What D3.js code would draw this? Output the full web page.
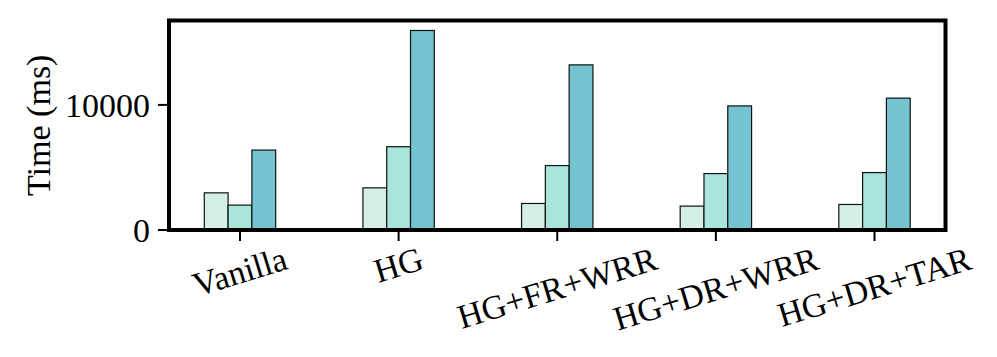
<html>
  <head>
    <meta charset="utf-8">
    <script src="https://d3js.org/d3.v7.min.js"></script>
    <style>
      body { margin: 0; background: #fff; }
      text { font-family: "Liberation Serif", "Times New Roman", serif; }
    </style>
  </head>
  <body>
    <div id="my_dataviz"></div>
  </body>

  <script>
    // data
    const categories = ['Vanilla', 'HG', 'HG+FR+WRR', 'HG+DR+WRR', 'HG+DR+TAR']
    const seriesA = [2970, 3370, 2120, 1910, 2040]
    const seriesB = [1990, 6660, 5150, 4510, 4590]
    const seriesC = [6390, 15950, 13200, 9920, 10540]
    const yTicks = [0, 10000]
    const colors = ['#d4efe6', '#aae5dc', '#74c3d0']

    const W = 997, H = 357
    const margin = {top: 20.5, right: 51.5, bottom: 127, left: 169}
    const width = W - margin.left - margin.right,
          height = H - margin.top - margin.bottom

    const fs = 34
    const barW = 0.15

    const svg = d3.select('#my_dataviz')
      .append('svg')
        .attr('width', W)
        .attr('height', H)
      .append('g')
        .attr('transform', `translate(${margin.left}, ${margin.top})`)

    // matplotlib style limits: data span plus 5% margin
    const lo = -1.5 * barW, hi = categories.length - 1 + 1.5 * barW
    const pad = (hi - lo) * 0.05
    const x = d3.scaleLinear().domain([lo - pad, hi + pad]).range([0, width])
    const ymax = d3.max(seriesC) * 1.05
    const y = d3.scaleLinear().domain([0, ymax]).range([height, 0])

    const series = [seriesA, seriesB, seriesC]
    const bars = []
    series.forEach((s, j) => s.forEach((v, i) => bars.push({i, j, v})))

    svg.selectAll('rect.bar')
      .data(bars)
      .join('rect')
        .attr('class', 'bar')
        .attr('x', d => x(d.i + (d.j - 1) * barW - barW / 2))
        .attr('width', d => x(barW) - x(0))
        .attr('y', d => y(d.v))
        .attr('height', d => y(0) - y(d.v))
        .style('fill', d => colors[d.j])
        .style('stroke', '#111')
        .style('stroke-width', 1.2)

    // y axis ticks
    const yAxis = svg.append('g')
    yAxis.selectAll('line')
      .data(yTicks)
      .join('line')
        .attr('x1', -11).attr('x2', 0)
        .attr('y1', d => y(d)).attr('y2', d => y(d))
        .style('stroke', '#000').style('stroke-width', 2)
    yAxis.selectAll('text')
      .data(yTicks)
      .join('text')
        .attr('x', -19)
        .attr('y', d => y(d))
        .attr('dy', '0.35em')
        .attr('text-anchor', 'end')
        .attr('font-size', fs)
        .text(d => d)

    // x axis ticks
    const xAxis = svg.append('g')
    xAxis.selectAll('line')
      .data(categories)
      .join('line')
        .attr('x1', (d, i) => x(i)).attr('x2', (d, i) => x(i))
        .attr('y1', height).attr('y2', height + 11)
        .style('stroke', '#000').style('stroke-width', 2)

    const rot = 17
    const labels = xAxis.selectAll('text')
      .data(categories)
      .join('text')
        .attr('text-anchor', 'middle')
        .attr('dy', '0.32em')
        .attr('font-size', fs)
        .text(d => d)
    // centre the rotated box under the tick, top aligned below it
    labels.each(function(d, i) {
      const b = this.getBBox()
      const a = rot * Math.PI / 180
      const bh = b.width * Math.sin(a) + b.height * 0.8 * Math.cos(a)
      const cy = height + 14 + bh / 2
      d3.select(this).attr('transform',
        `translate(${x(i)}, ${cy}) rotate(${-rot})`)
    })

    // y label
    svg.append('text')
      .attr('transform', `translate(${-margin.left + 50}, ${height / 2}) rotate(-90)`)
      .attr('text-anchor', 'middle')
      .attr('font-size', fs)
      .text('Time (ms)')

    // frame
    svg.append('rect')
      .attr('x', 0).attr('y', 0)
      .attr('width', width).attr('height', height)
      .style('fill', 'none')
      .style('stroke', '#000')
      .style('stroke-width', 4)
  </script>
</html>
